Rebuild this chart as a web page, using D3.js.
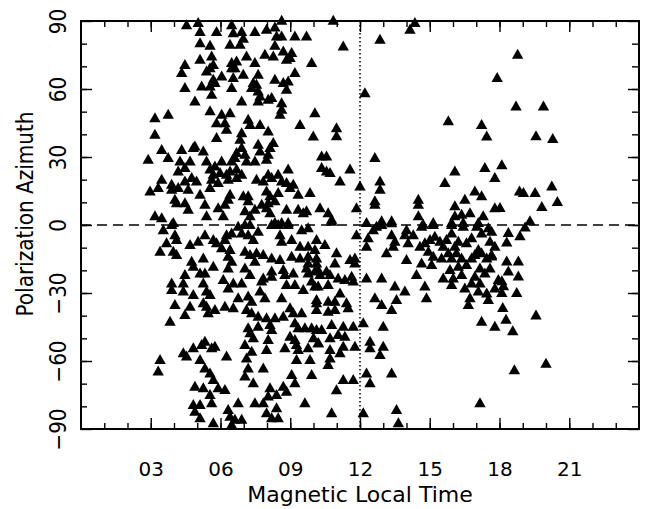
<!DOCTYPE html>
<html>
<head>
<meta charset="utf-8">
<script src="https://cdn.jsdelivr.net/npm/d3@7"></script>
<style>
  body { margin: 0; background: #fff; }
  svg { display: block; }
</style>
</head>
<body>
<div id="chart"></div>
<script>
// [MLT hours, polarization azimuth deg], split by region
var morningUpper = [
  [4.54,88],[5.04,89],[5.12,85],[5.83,85],[6.48,88],[6.55,84.5],[6.91,85],[6.98,82],[7.48,85],[7.98,86],[8.34,87],[8.41,83],[8.63,83],[8.63,90],[9.20,83],[9.70,83],
  [5.12,80],[5.55,79],[6.41,79.4],[6.84,79.4],[8.34,79],
  [5.62,74.2],[6.48,71.3],[6.69,72],[7.12,74.2],[7.91,75],[8.27,74.2],[8.70,76.4],[9.06,75.7],[8.84,72.8],[8.99,73.5],[9.92,71.3],[7.48,71.3],[4.47,70.5],[5.12,72.8],[5.69,70.5],
  [4.33,66.9],[5.40,67.6],[5.55,69],[6.48,69],[6.62,69],[6.05,65.4],[6.55,64.7],[6.98,66.1],[7.62,66.1],[8.34,63.9],[9.20,66.9],[5.69,63.9],[5.76,62.5],[7.41,62.5],[7.55,61.7],[8.91,63.2],[8.70,62.5],[4.47,60.3],[5.19,61],[5.55,61],[6.48,60.3],[7.34,60.3],[7.62,58.8],[8.84,59.5],
  [5.62,57.3],[7.70,56.6],[8.20,55.9],[8.05,55.1],[6.91,54.4],[7.62,54.4],[8.63,53.6],[4.90,54.4],[8.63,50.7],[8.56,48.5],[5.55,50],[6.05,48.5],[6.41,49.2],[10.06,49.2],[3.18,47],[3.75,48.5],
  [5.83,44.8],[6.19,44.8],[6.26,41.9],[7.19,46.3],[7.27,44],[7.70,44],[8.05,41.1],[9.42,44],[6.91,40.4],[6.84,37.5],[5.83,38.2],[9.99,38.9],[3.18,39.7],
  [4.90,34.5],[4.83,33.8],[4.33,33],[3.47,33],[3.75,29.4],[2.89,28.7],[4.26,27.9],[4.69,27.9],[5.26,32.3],[5.40,27.9],[6.05,27.9],[6.48,27.9],[6.69,31.6],[6.62,29.4],[7.05,30.9],[7.12,27.9],[7.62,35.3],[7.70,32.3],[8.13,33.8],[8.05,30.9],[7.98,28.7],[8.27,36],[7.48,27.9],[6.91,33.8],
  [4.47,25],[5.76,25.7],[5.55,24.3],[5.69,22],[5.98,22.8],[6.26,22],[6.41,23.5],[6.69,24.3],[6.91,22],[4.18,23.5],[4.76,20.6],[8.91,24.3],[8.05,22],[8.20,20.6],[8.48,22],[7.55,19.8],[7.84,19.1],[3.47,19.8],[3.90,17.6],[4.18,16.2],[4.47,19.1],[4.97,19.1],[5.62,19.8],[5.90,18.4],[6.33,19.8],[6.69,20.6],[8.63,19.1],[8.84,18.4],[9.13,17.6],
  [2.97,14.7],[3.32,16.2],[3.90,15.4],[4.61,15.4],[5.12,13.2],[5.55,16.2],[6.41,13.2],[6.33,11],[6.98,12.5],[7.19,12.5],[7.98,14.7],[8.13,12.5],[8.48,14],[8.99,16.2],[9.34,13.2],[9.85,14],[4.04,11],[4.11,9.5],[4.47,9.5],[5.33,8.8],[5.90,7.3],[6.19,8.8],[7.19,10.3],[8.05,9.5],[8.34,10.3],[7.77,8.8],
  [3.18,3.7],[3.47,2.9],[4.61,6.6],[5.40,3.7],[6.12,3.7],[7.05,5.9],[7.48,6.6],[7.27,3.7],[7.98,7.3],[8.13,5.1],[8.84,6.6],[9.34,6.6],[9.56,5.1],[9.70,5.9],[3.97,0.7],[8.34,0.7],[8.63,0.7],[8.91,0.7]
];

var morningLower = [
  [3.54,-2.4],[3.90,-0.1],[4.04,-4.6],[4.11,-6.8],[3.68,-8.2],[3.40,-11.9],[3.97,-11.9],[4.11,-13.4],[4.69,-9],[5.04,-7.5],[5.33,-4.6],[5.69,-6.8],[5.83,-8.2],[6.19,-6.8],[6.26,-4.6],[6.48,-3.9],[6.76,-0.9],[7.05,-0.1],[7.27,-0.1],[6.91,-3.9],[7.19,-4.6],[7.41,-6.8],[7.62,-3.1],[8.20,-0.1],[8.48,-0.1],[8.91,-0.1],[9.49,-2.4],[9.77,-1.6],[8.56,-4.6],[8.63,-7.5],[9.06,-6.8],[9.42,-9.7],[9.77,-9.7],[10.06,-11.2],
  [6.05,-10.4],[6.41,-11.2],[6.33,-14.1],[6.48,-16.3],[7.05,-11.9],[7.27,-13.4],[7.55,-12.6],[7.84,-13.4],[8.20,-14.9],[7.48,-16.3],[8.56,-15.6],[9.06,-14.1],[9.42,-14.9],[9.77,-14.1],[10.13,-14.9],[9.77,-17.1],[4.76,-16.3],[5.26,-14.9],[5.69,-18.5],[4.83,-18.5],[6.33,-19.3],[7.05,-19.3],[7.27,-22.2],[8.20,-20.7],[8.70,-20],[8.77,-22.2],[9.13,-21.5],[9.70,-19.3],[9.77,-21.5],[10.06,-20.7],
  [4.47,-22.2],[5.12,-21.5],[5.33,-21.5],[6.12,-24.4],[6.55,-25.9],[6.91,-25.9],[7.84,-23.7],[8.20,-23],[7.77,-25.1],[3.90,-25.9],[4.40,-25.9],[5.26,-25.9],[3.90,-28.8],[4.40,-29.5],[4.83,-31],[5.40,-29.5],[5.55,-31],[6.33,-28.1],[6.76,-32.5],[7.19,-31.7],[7.34,-34],[7.70,-29.5],[7.91,-32.5],[8.63,-32.5],[8.84,-26.6],[9.20,-26.6],[9.56,-28.8],[9.92,-25.1],[10.06,-27.3],[10.13,-34.7],
  [4.04,-35.4],[4.69,-36.2],[4.47,-39.8],[5.26,-34.7],[5.40,-36.2],[5.76,-37.6],[5.47,-39.1],[6.19,-36.2],[6.55,-36.9],[7.12,-37.6],[7.34,-39.1],[7.62,-40.6],[7.98,-41.3],[8.34,-41.3],[8.70,-40.6],[8.99,-36.9],[9.13,-39.1],[9.49,-39.1],[10.13,-37.6],[3.83,-42.8],
  [7.19,-45.7],[7.62,-45],[8.13,-44.3],[8.20,-46.5],[7.27,-47.9],[7.41,-50.1],[8.05,-50.9],[9.20,-43.5],[9.34,-45.7],[9.63,-45.7],[9.92,-45.7],[8.99,-49.4],[9.20,-50.9],[10.00,-50.1],[9.27,-53.1],[9.34,-55.3],[9.77,-54.5],[10.21,-52.3],[7.05,-53.1],[7.34,-56],[7.98,-55.3],[8.77,-54.5],
  [4.40,-56.7],[4.54,-58.2],[4.83,-54.5],[5.19,-53.1],[5.33,-51.6],[5.62,-54.5],[5.76,-53.8],[5.12,-59.7],[6.26,-58.2],[7.12,-59],[9.27,-59.7],[9.85,-59.7],[3.40,-59.7],[3.32,-64.8],[5.33,-63.4],[5.55,-65.6],[5.69,-68.5],[7.19,-63.4],[7.05,-67],[7.41,-70],[7.84,-63.4],[9.06,-66.3],[9.20,-70],[9.92,-66.3],
  [4.90,-71.5],[5.26,-72.2],[5.90,-72.2],[6.19,-72.9],[5.55,-75.1],[5.62,-78.8],[8.13,-72.2],[8.70,-71.5],[8.84,-73.7],[8.05,-75.8],[8.41,-75.1],[4.83,-79.5],[5.12,-79.5],[4.90,-82.5],[5.12,-85.4],[6.33,-81.7],[6.76,-78.8],[6.41,-84.7],[6.62,-86.1],[6.91,-86.1],[5.69,-87.6],[7.48,-78.8],[7.84,-78.8],[7.98,-83.2],[8.20,-85.4],[8.41,-81],[8.48,-85.4],[9.63,-78.8],[6.48,-88.4]
];

var afternoonUpper = [
  [10.85,90],[14.36,89],[14.15,86],[11.28,78.6],[12.86,81.6],[17.90,64.7],[12.21,58],[15.80,45.6],[17.23,44],[17.45,38.9],[10.99,42.6],[10.99,39],
  [10.35,30.1],[10.56,30.1],[10.35,25],[10.56,23.5],[10.71,22.8],[11.57,24.3],[11.14,19.1],[12.64,29.4],[16.08,23.5],[17.37,25],[17.80,20.6],[15.65,18.4],[12.0,16.9],[12.86,19.1],[12.86,15.4],[12.64,10.3],[12.64,8.8],
  [16.94,14.7],[17.23,12.5],[16.51,11],[14.51,11],[14.51,8.8],[16.08,8.1],[17.80,7.3],[18.02,7.4],[10.28,7.3],[10.63,5.1],[10.78,2.2],[11.85,7.3],[14.51,3.7],[16.08,3.7],[16.37,4.4],[16.73,5.1],[17.30,3.7],
  [12.28,0.7],[12.93,1.5],[13.36,1.5],[15.15,0.7],[15.94,0.7],[16.44,0.7],[17.09,0.7],[14.72,0],
  [18.78,75],[18.71,52.2],[19.89,52.2],[19.57,39],[20.29,37.8],[18.10,26.2],[18.86,14.7],[19.03,14],[19.53,14],[20.25,16.9],[19.82,7.8],[20.49,10],[19.31,1.5]
];

var afternoonLower = [
  [10.78,1.3],[11.85,-4.6],[12.35,-6],[12.28,-9.7],[10.49,-9],[10.13,-6.8],[10.99,-12.6],[10.92,-17.1],[11.57,-15.6],[11.78,-14.9],[11.78,-17.1],[10.13,-17.1],[10.20,-20],[10.56,-20.7],[10.71,-22.2],[10.28,-22.2],[11.06,-23.7],[11.35,-24.4],[11.64,-23],[11.71,-25.1],[12.28,-23.7],[12.93,-23.7],
  [10.63,-26.6],[10.20,-27.3],[11.14,-30.3],[10.13,-33.2],[10.63,-34],[10.92,-34],[11.42,-34.7],[11.49,-36.9],[10.63,-38.4],[10.92,-37.6],[12.64,-32.5],[12.93,-35.4],[13.50,-27.3],[13.93,-29.5],[13.57,-33.2],[13.36,-37.6],[14.43,-22.2],[14.79,-27.3],[14.86,-32.5],
  [10.13,-46.5],[10.35,-46.5],[10.78,-44.3],[11.28,-45],[11.71,-45],[12.14,-43.5],[13.0,-45],[10.71,-50.1],[11.06,-48.7],[11.35,-49.4],[10.20,-52.3],[11.28,-53.8],[11.78,-53.8],[10.71,-55.3],[11.14,-56.7],[12.43,-51.6],[12.43,-54.5],[13.0,-53.8],[12.86,-57.5],
  [10.71,-59],[10.63,-61.9],[11.28,-68.5],[11.71,-68.5],[10.99,-73],[12.28,-65.6],[12.43,-70],[13.36,-65.6],[10.78,-83.2],[12.14,-83.2],[13.57,-81.7],[13.65,-87.6],[17.16,-78.8],[17.23,-42.8],[17.80,-45]
];

var duskCluster = [
  [13.36,0.6],[12.93,-0.1],[12.57,-2.4],[12.71,-0.9],[13.36,-4.6],[13.50,-7.5],[13.43,-9.7],[13.14,-12.6],[13.93,-4.6],[14.0,-2.4],[14.29,-4.6],[14.07,-8.2],[14.65,-0.9],[15.15,-0.1],[14.58,-9.7],[14.0,-15.6],
  [14.79,-8.2],[15.01,-6.8],[15.22,-5.3],[15.44,-7.5],[14.94,-11.9],[15.15,-14.1],[15.08,-17.8],[14.65,-17.1],[15.58,-9.7],[15.72,-6.8],[15.94,-3.9],[15.94,-0.1],[16.44,-0.9],[15.80,-12.6],[15.94,-14.9],[15.51,-14.9],
  [16.08,-9.7],[16.23,-7.5],[16.15,-12.6],[16.37,-14.9],[16.58,-8.2],[16.80,-6],[17.02,-0.9],[17.23,-3.9],[17.52,-1.6],[17.59,-7.5],[17.66,-3.1],[17.09,-11.2],[16.94,-13.4],[16.80,-14.9],[17.23,-12.6],[17.45,-14.9],[17.66,-13.4],[17.80,-9.7],
  [16.58,-17.8],[16.23,-18.5],[15.87,-20],[15.58,-23.7],[16.01,-23.7],[16.37,-22.2],[15.94,-26.6],[16.51,-28.1],[16.80,-25.9],[16.94,-23],[17.16,-19.3],[17.59,-19.3],[17.37,-21.5],[17.16,-25.9],[17.09,-29.5],[17.45,-30.3],[17.52,-33.2],[16.73,-32.5],[16.66,-35.4],[17.80,-28.1],[17.95,-24.4],
  [19.10,-1.2],[18.88,-5.1],[18.38,-3.7],[18.31,-7.8],[17.66,-14],
  [18.31,-16.2],[18.81,-16.2],[18.38,-20.6],[18.81,-22.8],[18.10,-25],[18.17,-27.2],[18.74,-30.1],[18.10,-30.1],[18.14,-36.8],[18.28,-41.9],[18.57,-47],[19.57,-40.1],[20.0,-61.3],[18.64,-64.2]
];

var xMajorTicks = [3, 6, 9, 12, 15, 18, 21];
var yMajorTicks = [-90, -60, -30, 0, 30, 60, 90];
var xLabel = "Magnetic Local Time";
var yLabel = "Polarization Azimuth";

var points = morningUpper.concat(morningLower, afternoonUpper, afternoonLower, duskCluster);

var w = 648;
var h = 509;
var plotLeft = 81, plotRight = 639, plotTop = 21, plotBottom = 429;
var font = "'DejaVu Sans', sans-serif";

var x = d3.scaleLinear().domain([0, 24]).range([plotLeft, plotRight]);
var y = d3.scaleLinear().domain([-90, 90]).range([plotBottom, plotTop]);

var svg = d3.select("#chart")
    .append("svg")
    .attr("width", w)
    .attr("height", h);

var xMinor = d3.range(1, 24);
var yMinor = d3.range(-80, 90, 10);

function styleAxis(g) {
    g.select(".domain").remove();
    g.selectAll("line").attr("stroke", "#000").attr("stroke-width", 1.4);
}

// bottom + top ticks pointing inward
svg.append("g")
    .attr("transform", "translate(0," + plotBottom + ")")
    .call(d3.axisBottom(x).tickValues(xMinor).tickSize(-6).tickFormat(""))
    .call(styleAxis);
svg.append("g")
    .attr("transform", "translate(0," + plotBottom + ")")
    .call(d3.axisBottom(x).tickValues(xMajorTicks).tickSize(-11).tickPadding(33)
        .tickFormat(d3.format("02d")))
    .call(styleAxis)
    .selectAll("text")
    .attr("font-family", font)
    .attr("font-size", "20px")
    .attr("fill", "#000");
svg.append("g")
    .attr("transform", "translate(0," + plotTop + ")")
    .call(d3.axisTop(x).tickValues(xMinor).tickSize(-6).tickFormat(""))
    .call(styleAxis);
svg.append("g")
    .attr("transform", "translate(0," + plotTop + ")")
    .call(d3.axisTop(x).tickValues(xMajorTicks).tickSize(-11).tickFormat(""))
    .call(styleAxis);

// left + right ticks
svg.append("g")
    .attr("transform", "translate(" + plotLeft + ",0)")
    .call(d3.axisLeft(y).tickValues(yMinor).tickSize(-6).tickFormat(""))
    .call(styleAxis);
var yAx = svg.append("g")
    .attr("transform", "translate(" + plotLeft + ",0)")
    .call(d3.axisLeft(y).tickValues(yMajorTicks).tickSize(-11))
    .call(styleAxis);
yAx.selectAll("text")
    .attr("transform", "rotate(-90) scale(1,1.12)")
    .attr("x", 0)
    .attr("y", -13)
    .attr("dy", 0)
    .attr("text-anchor", "middle")
    .attr("font-family", font)
    .attr("font-size", "20px")
    .attr("fill", "#000");
svg.append("g")
    .attr("transform", "translate(" + plotRight + ",0)")
    .call(d3.axisRight(y).tickValues(yMinor).tickSize(-7).tickFormat(""))
    .call(styleAxis);
svg.append("g")
    .attr("transform", "translate(" + plotRight + ",0)")
    .call(d3.axisRight(y).tickValues(yMajorTicks).tickSize(-11).tickFormat(""))
    .call(styleAxis);

// frame
svg.append("rect")
    .attr("x", plotLeft)
    .attr("y", plotTop)
    .attr("width", plotRight - plotLeft)
    .attr("height", plotBottom - plotTop)
    .attr("fill", "none")
    .attr("stroke", "#000")
    .attr("stroke-width", 2);

// reference lines
svg.append("line")
    .attr("x1", plotLeft).attr("x2", plotRight)
    .attr("y1", y(0)).attr("y2", y(0))
    .attr("stroke", "#000")
    .attr("stroke-width", 1.5)
    .attr("stroke-dasharray", "10,6");
svg.append("line")
    .attr("x1", x(12)).attr("x2", x(12))
    .attr("y1", plotTop).attr("y2", plotBottom)
    .attr("stroke", "#000")
    .attr("stroke-width", 1.5)
    .attr("stroke-dasharray", "1.5,2.5");

// triangles
svg.selectAll("path.pt")
    .data(points)
    .enter()
    .append("path")
    .attr("class", "pt")
    .attr("d", "M0,-6.3L5.7,3.7L-5.7,3.7Z")
    .attr("transform", function(d) {
        return "translate(" + x(d[0]) + "," + y(d[1]) + ")";
    })
    .attr("fill", "#000");

// axis titles
svg.append("text")
    .attr("x", x(12))
    .attr("y", 502)
    .attr("text-anchor", "middle")
    .attr("font-family", font)
    .attr("font-size", "22px")
    .attr("fill", "#000")
    .text(xLabel);
svg.append("text")
    .attr("transform", "translate(33,214) rotate(-90) scale(1,1.15)")
    .attr("text-anchor", "middle")
    .attr("font-family", font)
    .attr("font-size", "20px")
    .attr("fill", "#000")
    .text(yLabel);
</script>
</body>
</html>
